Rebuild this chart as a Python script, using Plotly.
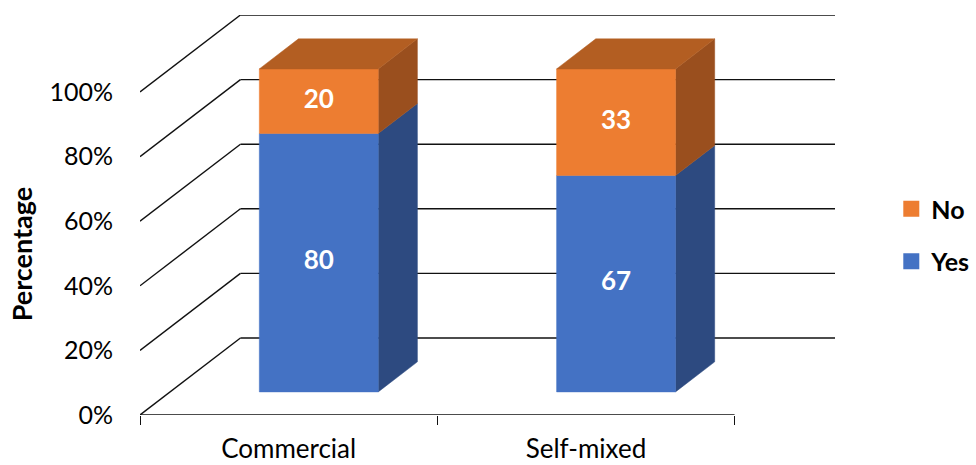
import plotly.graph_objects as go

# ---- data ----
categories = ["Commercial", "Self-mixed"]
yes_values = [80, 67]
no_values = [20, 33]
series_names = ["Yes", "No"]
y_tick_values = [0, 20, 40, 60, 80, 100]
y_tick_labels = ["0%", "20%", "40%", "60%", "80%", "100%"]
y_title = "Percentage"

# ---- 3D projection settings (in data units) ----
DX = 100 / 296.0      # depth shift in category units
DY = 77 / 3.23        # depth shift in percent units
D0, D1 = 0.30, 0.69   # bar depth extent (fraction of floor depth)
BAR_W = 0.40

FRONT = {"Yes": "#4472C4", "No": "#ED7D31"}
SIDE = {"Yes": "#2D4A80", "No": "#9A4F1E"}
TOP = {"Yes": "#3A62A8", "No": "#B35E22"}

FONT = "Lato, Open Sans, sans-serif"
LINE = dict(color="#111111", width=1.4)


def proj(x, y, d):
    return x + d * DX, y + d * DY


fig = go.Figure()

n = len(categories)
# back wall horizontal lines and left wall diagonals
for v in y_tick_values:
    bx0, by0 = proj(0, v, 1)
    bx1, by1 = proj(n, v, 1)
    fig.add_trace(go.Scatter(x=[bx0, bx1], y=[by0, by1], mode="lines",
                             line=LINE, hoverinfo="skip", showlegend=False))
    fx, fy = proj(0, v, 0)
    fig.add_trace(go.Scatter(x=[fx, bx0], y=[fy, by0], mode="lines",
                             line=LINE, hoverinfo="skip", showlegend=False))
# front floor line
fig.add_trace(go.Scatter(x=[0, n], y=[0, 0], mode="lines", line=LINE,
                         hoverinfo="skip", showlegend=False))


def poly(pts, color):
    xs = [p[0] for p in pts] + [pts[0][0]]
    ys = [p[1] for p in pts] + [pts[0][1]]
    fig.add_trace(go.Scatter(x=xs, y=ys, mode="lines", fill="toself",
                             fillcolor=color, line=dict(color=color, width=0.5),
                             hoverinfo="skip", showlegend=False))


for i, cat in enumerate(categories):
    xl = i + 0.5 - BAR_W / 2
    xr = i + 0.5 + BAR_W / 2
    segs = [("Yes", 0, yes_values[i]), ("No", yes_values[i], yes_values[i] + no_values[i])]
    top_name = segs[-1][0]
    for name, lo, hi in segs:
        poly([proj(xr, lo, D0), proj(xr, lo, D1), proj(xr, hi, D1), proj(xr, hi, D0)], SIDE[name])
        poly([proj(xl, lo, D0), proj(xr, lo, D0), proj(xr, hi, D0), proj(xl, hi, D0)], FRONT[name])
    hi = segs[-1][2]
    poly([proj(xl, hi, D0), proj(xr, hi, D0), proj(xr, hi, D1), proj(xl, hi, D1)], TOP[top_name])
    for name, lo, hi in segs:
        lx, ly = proj(i + 0.5, (lo + hi) / 2, D0)
        fig.add_trace(go.Scatter(x=[lx], y=[ly], mode="text", text=[str(hi - lo)],
                                 textfont=dict(family=FONT, size=26, color="white", weight="bold"),
                                 hoverinfo="skip", showlegend=False))

# legend entries
for name in ["No", "Yes"]:
    fig.add_trace(go.Scatter(x=[None], y=[None], mode="markers", name=name,
                             legendgroup=name,
                             marker=dict(symbol="square", size=17, color=FRONT[name])))

# tick marks on the floor line
fig.add_trace(go.Scatter(x=[None], y=[None], xaxis="x2", showlegend=False))

x_max = n + DX
y_max = 100 + DY

fig.update_layout(
    width=976, height=465,
    margin=dict(l=140, r=141, t=15, b=50, autoexpand=False),
    paper_bgcolor="white", plot_bgcolor="white",
    font=dict(family=FONT, size=25, color="#000"),
    showlegend=True,
    legend=dict(x=1.081, y=0.45, xanchor="left", yanchor="middle",
                font=dict(family=FONT, size=25, color="#000", weight="bold"),
                itemsizing="trace", tracegroupgap=17, bgcolor="rgba(0,0,0,0)"),
    xaxis=dict(range=[0, x_max], showgrid=False, zeroline=False, showline=False,
               automargin=False,
               tickvals=[i + 0.5 for i in range(n)], ticktext=categories,
               ticks="", ticklabelstandoff=16, tickfont=dict(size=26)),
    xaxis2=dict(range=[0, x_max], overlaying="x", side="bottom", showgrid=False,
                zeroline=False, showline=False, tickvals=list(range(n + 1)),
                automargin=False,
                ticks="outside", ticklen=9, tickwidth=1.4, tickcolor="#111",
                showticklabels=False),
    yaxis=dict(range=[0, y_max], showgrid=False, zeroline=False, showline=False,
               automargin=False,
               tickvals=y_tick_values, ticktext=y_tick_labels, ticks="",
               ticklabelstandoff=26, tickfont=dict(size=25)),
    annotations=[dict(text="<b>" + y_title + "</b>", xref="paper", yref="y",
                      x=-0.17, y=50, xanchor="center", yanchor="middle",
                      textangle=-90, showarrow=False,
                      font=dict(family=FONT, size=27, color="#000"))],
)

fig.write_html("out.html")
